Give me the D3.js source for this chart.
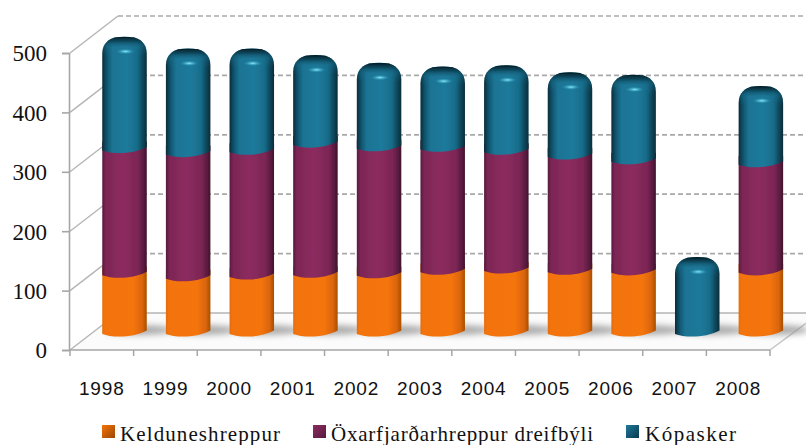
<!DOCTYPE html>
<html><head><meta charset="utf-8">
<script src="https://cdn.jsdelivr.net/npm/d3@7/dist/d3.min.js"></script>
<style>html,body{margin:0;padding:0;background:#fff}svg{display:block}</style>
</head><body><svg id="c" width="806" height="445"></svg>
<script>
const years = ["1998","1999","2000","2001","2002","2003","2004","2005","2006","2007","2008"];
const seriesNames = ["Kelduneshreppur","Öxarfjarðarhreppur dreifbýli","Kópasker"];
const kelduneshreppur = [99,93,96,99,98,104,106,104,103,0,103];
const oxarfjardarhreppur = [210,209,210,219,214,207,200,194,187,0,182];
const kopasker = [197,184,180,157,150,145,152,148,152,135,138];
const yTicks = [0,100,200,300,400,500];

const svg = d3.select("#c");
const x = d3.scaleBand().domain(years).range([70,770]);
const y = d3.scaleLinear().domain([0,500]).range([350,53]);
const depthX = 50, depthY = 37, barShiftX = 22.7, barShiftY = 13, barW = 44.5;
const grey = "#a6a6a6";

const defs = svg.append("defs");
function hGrad(id, stops){
  const g = defs.append("linearGradient").attr("id",id);
  stops.forEach(s=>g.append("stop").attr("offset",s[0]).attr("stop-color",s[1]));
}
hGrad("g0",[[0,"#e56c08"],[.06,"#f37308"],[.7,"#f57408"],[.9,"#d96507"],[1,"#a94e05"]]);
hGrad("g1",[[0,"#561a3e"],[.08,"#7c2654"],[.45,"#8d2c60"],[.8,"#7c2654"],[.94,"#561a3e"],[1,"#3e1229"]]);
hGrad("g2",[[0,"#062a38"],[.09,"#0f5169"],[.22,"#1a7393"],[.55,"#1f7a9b"],[.78,"#176d8b"],[.93,"#0c4153"],[1,"#062a38"]]);
const cap = defs.append("linearGradient").attr("id","cap").attr("x1",0).attr("x2",0).attr("y1",0).attr("y2",1);
[[0,"#021820",1],[.22,"#0a3e50",.9],[.55,"#1a7393",.3],[1,"#1a7393",0]].forEach(s=>cap.append("stop").attr("offset",s[0]).attr("stop-color",s[1]).attr("stop-opacity",s[2]));
const hi = defs.append("radialGradient").attr("id","hi");
[[0,"#8fe6f5",1],[.45,"#45b4d0",.7],[1,"#1f7a9b",0]].forEach(s=>hi.append("stop").attr("offset",s[0]).attr("stop-color",s[1]).attr("stop-opacity",s[2]));
const swatches = [["#f57408","#9a4705"],["#8d2c60","#561a3e"],["#1f7a9b","#0a3a4c"]];
swatches.forEach((c,i)=>{
  const g = defs.append("linearGradient").attr("id","sw"+i).attr("x1",0).attr("x2",1).attr("y1",0).attr("y2",1);
  g.append("stop").attr("offset",0).attr("stop-color",c[0]);
  g.append("stop").attr("offset",1).attr("stop-color",c[1]);
});
defs.append("filter").attr("id","soft").append("feGaussianBlur").attr("stdDeviation",0.6);
defs.append("filter").attr("id","shadow").attr("x","-30%").attr("width","160%").attr("y","-60%").attr("height","220%")
  .append("feGaussianBlur").attr("stdDeviation",3);

// floor
const x0 = x.range()[0], x1 = x.range()[1], yz = y(0);
svg.append("path").attr("fill","#fbfbfb")
  .attr("d",`M${x0},${yz}L${x0+depthX},${yz-depthY}H806V${yz-(806-x1)*depthY/depthX}L${x1},${yz}Z`);
// back wall grid lines + side wall lines
yTicks.forEach(t=>{
  if(t>0) svg.append("line").attr("x1",x0+depthX-2).attr("x2",806).attr("y1",y(t)-depthY).attr("y2",y(t)-depthY)
    .attr("stroke","#a9a9a9").attr("stroke-width",1.7).attr("stroke-dasharray","5 3");
  svg.append("line").attr("x1",x0).attr("y1",y(t)).attr("x2",x0+depthX-2).attr("y2",y(t)-depthY)
    .attr("stroke","#b5b5b5").attr("stroke-width",1.4);
});
svg.append("line").attr("x1",x0+depthX-2).attr("x2",806).attr("y1",yz-depthY).attr("y2",yz-depthY).attr("stroke","#b5b5b5").attr("stroke-width",1.5);
svg.append("line").attr("x1",x1).attr("y1",yz).attr("x2",806).attr("y2",yz-(806-x1)*depthY/depthX).attr("stroke","#c4c4c4").attr("stroke-width",1.5);

// axes
const yAxis = d3.axisLeft(y).tickValues(yTicks).tickSize(7).tickPadding(15);
const gy = svg.append("g").attr("transform",`translate(${x0-1},0)`).call(yAxis);
gy.selectAll("path,line").attr("stroke",grey).attr("stroke-width",1.6);
gy.selectAll("text").attr("font-family","'Liberation Serif',serif").attr("font-size",23).attr("fill","#111").attr("dy","0.34em");
const xAxis = d3.axisBottom(x).tickSize(0).tickPadding(31);
const gx = svg.append("g").attr("transform",`translate(0,${yz})`).call(xAxis);
gx.select("path").attr("stroke",grey).attr("stroke-width",1.5).attr("d",`M${x0},0H${x1}`);
gx.selectAll("text").attr("font-family","'Liberation Sans',sans-serif").attr("font-size",19).attr("letter-spacing",0.9).attr("fill","#111").attr("dy","0.72em");
const xEdges = years.map(d=>x(d)).concat([x1]);
svg.append("g").selectAll("line").data(xEdges).join("line")
  .attr("x1",d=>d).attr("x2",d=>d).attr("y1",yz).attr("y2",yz+6).attr("stroke",grey).attr("stroke-width",1.5);

// bars
const stacked = years.map((yr,i)=>({yr,vals:[kelduneshreppur[i],oxarfjardarhreppur[i],kopasker[i]]}));
const cx = d=>x(d.yr)+x.bandwidth()/2+barShiftX;
const yb = v=>y(v)-barShiftY;

const shadows = svg.append("g").attr("filter","url(#shadow)");
shadows.selectAll("ellipse").data(stacked).join("ellipse")
  .attr("cx",d=>cx(d)+14).attr("cy",yb(0)-7).attr("rx",barW/2+12).attr("ry",5).attr("fill","#8f8f8f").attr("opacity",.75);

const barsG = svg.append("g").attr("filter","url(#soft)");
stacked.forEach(d=>{
  const c = cx(d), l = c-barW/2, r = c+barW/2, g = barsG.append("g");
  let cum = 0;
  d.vals.forEach((v,s)=>{
    if(v===0) return;
    const bot = yb(cum), top = yb(cum+v);
    cum += v;
    // curved lower edge: tilted ellipse seen from the left, right side sits higher
    const botEdge = `M${l},${bot-3}C${l+10},${bot+0.8} ${r-14},${bot+1} ${r},${bot-6.5}`;
    if(s<2){
      g.append("path").attr("fill",`url(#g${s})`).attr("d",`${botEdge}V${top-12}H${l}Z`);
    } else {
      const dome = `${botEdge}V${top+17}C${r},${top+6} ${r-8},${top+2.5} ${c+10},${top+1}Q${c},${top-0.5} ${c-10},${top+1}C${l+8},${top+2.5} ${l},${top+6} ${l},${top+17}Z`;
      g.append("path").attr("fill","url(#g2)").attr("d",dome);
      const clipId = "cl"+d.yr;
      defs.append("clipPath").attr("id",clipId).append("path").attr("d",dome);
      g.append("rect").attr("clip-path",`url(#${clipId})`).attr("x",l).attr("y",top).attr("width",barW).attr("height",20).attr("fill","url(#cap)");
      g.append("ellipse").attr("cx",c+1).attr("cy",top+15).attr("rx",10).attr("ry",3).attr("fill","url(#hi)");
    }
  });
});

// legend
const legX = [102,313,626], legTextX = [120,331,645], legLen = [160,262,91];
const leg = svg.append("g").selectAll("g").data(seriesNames).join("g");
leg.append("rect").attr("x",(d,i)=>legX[i]).attr("y",425).attr("width",13).attr("height",13).attr("fill",(d,i)=>`url(#sw${i})`);
leg.append("text").attr("x",(d,i)=>legTextX[i]).attr("y",441).text(d=>d)
  .attr("font-family","'Liberation Serif',serif").attr("font-size",21).attr("fill","#111")
  .attr("textLength",(d,i)=>legLen[i]).attr("lengthAdjust","spacing");
</script></body></html>
